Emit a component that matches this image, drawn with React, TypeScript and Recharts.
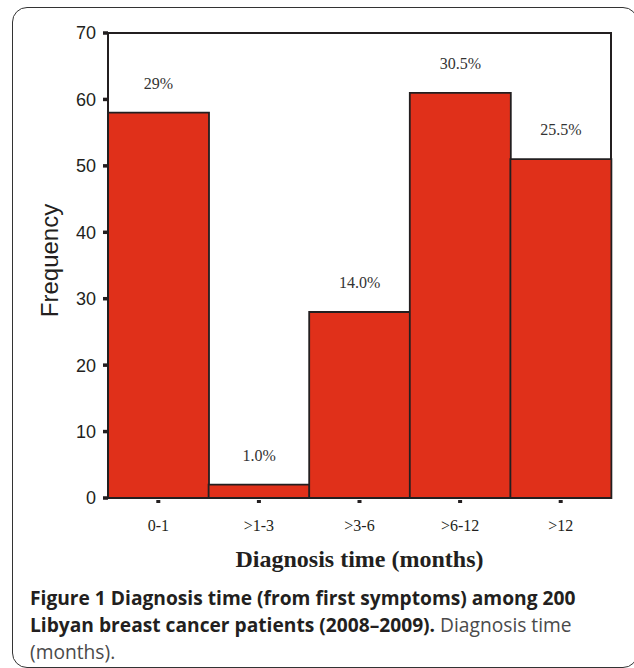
import { BarChart, Bar, XAxis, YAxis, LabelList, ReferenceArea } from "recharts";

const categories = ["0-1", ">1-3", ">3-6", ">6-12", ">12"];
const frequencies = [58, 2, 28, 61, 51];
const percentLabels = ["29%", "1.0%", "14.0%", "30.5%", "25.5%"];
const yTicks = [0, 10, 20, 30, 40, 50, 60, 70];

const data = categories.map((name, i) => ({
  name,
  frequency: frequencies[i],
  pct: percentLabels[i],
}));

const INK = "#231f20";
const RED = "#e0301a";

function XTick(props: any) {
  const { x, y, payload } = props;
  return (
    <g>
      <rect x={x - 2} y={y + 2} width={4} height={3} fill={INK} />
      <text
        x={x}
        y={y + 33}
        textAnchor="middle"
        fill={INK}
        fontSize={16}
        fontFamily="'Liberation Serif', 'Times New Roman', serif"
      >
        {payload.value}
      </text>
    </g>
  );
}

function FrequencyLabel(props: any) {
  const { viewBox } = props;
  const cx = 58;
  const cy = viewBox.y + viewBox.height / 2 - 5;
  return (
    <text
      x={cx}
      y={cy}
      transform={`rotate(-90, ${cx}, ${cy})`}
      textAnchor="middle"
      fill={INK}
      fontSize={24}
      fontFamily="'Liberation Sans', Arial, sans-serif"
    >
      Frequency
    </text>
  );
}

export default function App() {
  return (
    <div
      style={{
        position: "absolute",
        top: 0,
        left: 0,
        width: 634,
        height: 668,
        overflow: "hidden",
        background: "#fff",
      }}
    >
      <div
        style={{
          position: "absolute",
          left: 12,
          top: 7,
          width: 626,
          height: 661,
          boxSizing: "border-box",
          border: "1.5px solid #333",
          borderRadius: 15,
        }}
      />
      <div style={{ position: "absolute", left: 0, top: 0 }}>
        <BarChart
          width={634}
          height={580}
          data={data}
          margin={{ top: 33, right: 23, left: 0, bottom: 0 }}
          barCategoryGap={0}
        >
          <ReferenceArea
            y1={0}
            y2={70}
            fill="none"
            stroke={INK}
            strokeWidth={2}
            ifOverflow="visible"
          />
          <XAxis
            dataKey="name"
            height={82}
            axisLine={{ stroke: INK, strokeWidth: 2 }}
            tickLine={false}
            tickSize={0}
            tickMargin={0}
            tick={<XTick />}
            interval={0}
            label={{
              value: "Diagnosis time (months)",
              position: "insideBottom",
              offset: 13,
              fill: INK,
              fontSize: 24,
              fontWeight: "bold",
              fontFamily: "'Liberation Serif', 'Times New Roman', serif",
            }}
          />
          <YAxis
            width={108}
            domain={[0, 70]}
            ticks={yTicks}
            interval={0}
            axisLine={{ stroke: INK, strokeWidth: 2 }}
            tickLine={{ stroke: INK, strokeWidth: 3.5 }}
            tickSize={5}
            tickMargin={7}
            tick={{
              fill: INK,
              fontSize: 18,
              fontFamily: "'Liberation Sans', Arial, sans-serif",
            }}
            label={<FrequencyLabel />}
          />
          <Bar
            dataKey="frequency"
            fill={RED}
            stroke={INK}
            strokeWidth={1.8}
            isAnimationActive={false}
          >
            <LabelList
              dataKey="pct"
              position="top"
              offset={24}
              fill="#333"
              fontSize={16}
              fontFamily="'Liberation Serif', 'Times New Roman', serif"
            />
          </Bar>
        </BarChart>
      </div>
      <div
        style={{
          position: "absolute",
          left: 30,
          top: 584,
          fontFamily: "'Open Sans', 'Noto Sans', sans-serif",
          fontSize: 19.2,
          lineHeight: "27px",
          color: "#4a4a4a",
          whiteSpace: "nowrap",
        }}
      >
        <span style={{ fontWeight: 700, color: INK }}>
          Figure 1 Diagnosis time (from first symptoms) among 200
          <br />
          Libyan breast cancer patients (2008–2009).
        </span>{" "}
        Diagnosis time
        <br />
        (months).
      </div>
    </div>
  );
}
